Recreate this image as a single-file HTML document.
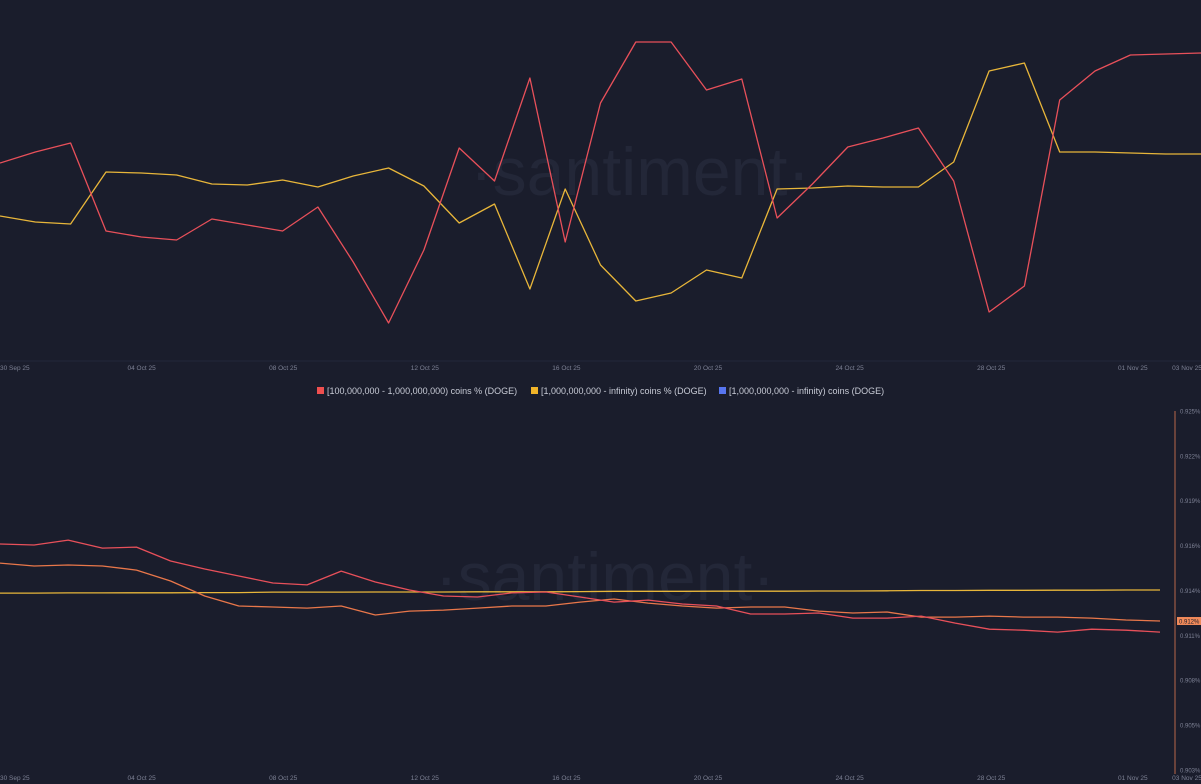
<!DOCTYPE html>
<html><head><meta charset="utf-8"><style>
html,body{margin:0;padding:0;background:#1a1d2c;width:1201px;height:784px;overflow:hidden;font-family:"Liberation Sans",sans-serif}
svg text{font-family:"Liberation Sans",sans-serif}
</style></head><body>
<svg id="c" width="1201" height="784" xmlns="http://www.w3.org/2000/svg">
<rect width="1201" height="784" fill="#1a1d2c"/>
<text x="640" y="195" font-size="68" fill="#232738" text-anchor="middle">·santiment·</text>
<text x="605" y="600" font-size="68" fill="#232738" text-anchor="middle">·santiment·</text>
<line x1="0" y1="361" x2="1201" y2="361" stroke="#23273a"/>
<line x1="1175" y1="411" x2="1175" y2="774" stroke="#b8664a"/>
<g id="legend">
<rect x="317" y="387" width="7" height="7" fill="#ef4f4f"/>
<text x="327" y="394" font-size="9" fill="#c8cbd6">[100,000,000 - 1,000,000,000) coins % (DOGE)</text>
<rect x="531" y="387" width="7" height="7" fill="#f0b429"/>
<text x="541" y="394" font-size="9" fill="#c8cbd6">[1,000,000,000 - infinity) coins % (DOGE)</text>
<rect x="719" y="387" width="7" height="7" fill="#5775f0"/>
<text x="729" y="394" font-size="9" fill="#c8cbd6">[1,000,000,000 - infinity) coins (DOGE)</text>
</g>
</svg>
<script>
const dates = ["30 Sep 25","04 Oct 25","08 Oct 25","12 Oct 25","16 Oct 25","20 Oct 25","24 Oct 25","28 Oct 25","01 Nov 25","03 Nov 25"];
const dateIdx = [0,4,8,12,16,20,24,28,32,34];
// top chart (relative units, unlabeled axis)
const topRed = [197,208,217,129,123,120,141,135,129,153,98,37,110,212,179,282,118,257,318,318,270,281,142,176,213,222,232,179,48,74,260,289,305,306,307];
const topYellow = [144,138,136,188,187,185,176,175,180,173,184,192,174,137,156,71,171,95,59,67,90,82,171,172,174,173,173,198,289,297,208,208,207,206,206];
// bottom chart (% of supply)
const botRed = [0.91685,0.91679,0.91709,0.91660,0.91666,0.91581,0.91532,0.91489,0.91446,0.91434,0.91519,0.91452,0.91403,0.91366,0.91360,0.91385,0.91391,0.91360,0.91329,0.91341,0.91317,0.91305,0.91256,0.91256,0.91262,0.91231,0.91231,0.91243,0.91200,0.91163,0.91157,0.91145,0.91163,0.91157,0.91145];
const botOrange = [0.91568,0.91550,0.91556,0.91550,0.91525,0.91458,0.91366,0.91305,0.91299,0.91292,0.91305,0.91250,0.91274,0.91280,0.91292,0.91305,0.91305,0.91329,0.91348,0.91323,0.91305,0.91292,0.91299,0.91299,0.91274,0.91262,0.91268,0.91237,0.91237,0.91243,0.91237,0.91237,0.91231,0.91219,0.91213];
const botYellow = [0.91384,0.91384,0.91385,0.91385,0.91386,0.91386,0.91387,0.91387,0.91390,0.91390,0.91390,0.91391,0.91391,0.91391,0.91392,0.91392,0.91392,0.91393,0.91395,0.91395,0.91395,0.91396,0.91396,0.91396,0.91397,0.91397,0.91398,0.91400,0.91400,0.91401,0.91401,0.91402,0.91402,0.91403,0.91403];
const yTicks = [0.925,0.92225,0.9195,0.91675,0.914,0.91125,0.9085,0.90575,0.903];
const yTickLabels = ["0.925%","0.922%","0.919%","0.916%","0.914%","0.911%","0.908%","0.905%","0.903%"];

const NS="http://www.w3.org/2000/svg", svg=document.getElementById('c');
const xTop = i => i*1201/34;
const yTop = v => 360 - v;
const xBot = i => i*1160/34;
const yBot = v => 411 + (0.925 - v)*16318;
const xLab = i => i*35.4;

function line(arr, xf, yf, color, name){
  const p=document.createElementNS(NS,'polyline');
  p.setAttribute('points', arr.map((v,i)=>xf(i).toFixed(1)+','+yf(v).toFixed(1)).join(' '));
  p.setAttribute('fill','none'); p.setAttribute('stroke',color); p.setAttribute('stroke-width','1.3');
  p.setAttribute('stroke-linejoin','round');
  
  
  svg.appendChild(p);
}
function txt(x,y,s,color,anchor,name,size){
  const t=document.createElementNS(NS,'text');
  t.setAttribute('x',x); t.setAttribute('y',y); t.setAttribute('font-size',size||'6.5');
  t.setAttribute('fill',color); t.setAttribute('text-anchor',anchor);
  t.textContent=s;
  
  
  svg.appendChild(t); return t;
}
line(topYellow,xTop,yTop,'#e8b63a','top-line-1b-inf-pct');
line(topRed,xTop,yTop,'#e8505a','top-line-100m-1b');
line(botYellow,xBot,yBot,'#e8b63a','bottom-line-yellow');
line(botOrange,xBot,yBot,'#e9774a','bottom-line-orange');
line(botRed,xBot,yBot,'#e8505a','bottom-line-red');
dates.forEach((d,k)=>{
  let x = xLab(dateIdx[k]), a='middle';
  if(k===0){x=0;a='start';}
  if(k===dates.length-1){x=1187;}
  txt(x,370,d,'#7d8194',a,'top-x-tick');
  txt(x,780,d,'#7d8194',a,'bottom-x-tick');
});
yTicks.forEach((v,k)=>{
  txt(1180,yBot(v)+2.5,yTickLabels[k],'#7d8194','start','y-tick','6');
});
const hl=document.createElementNS(NS,'rect');
hl.setAttribute('x',1177);hl.setAttribute('y',yBot(botOrange[34])-4);hl.setAttribute('width',24);hl.setAttribute('height',8);hl.setAttribute('fill','#f08a5a');


svg.appendChild(hl);
txt(1179,yBot(botOrange[34])+2.5,'0.912%','#1a1d2c','start','last-value-label','6');
</script>
</body></html>
